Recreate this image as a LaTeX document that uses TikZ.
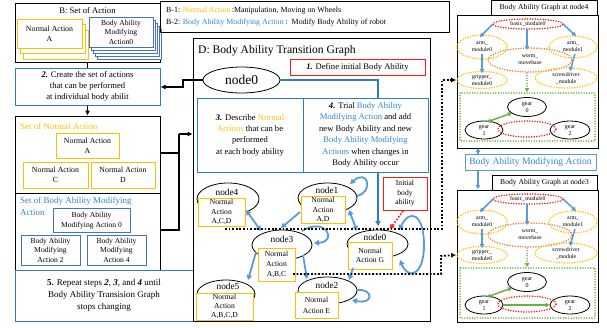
\documentclass[tikz,border=0pt]{standalone}
\usepackage{fontspec}
\setmainfont{Liberation Serif}
\usetikzlibrary{arrows.meta,shapes.geometric,calc}
\definecolor{yel}{HTML}{FFC000}
\definecolor{tblue}{HTML}{2E86D1}
\definecolor{bbox}{HTML}{2E7DC4}
\definecolor{dblue}{HTML}{4472C4}
\definecolor{lblue}{HTML}{5B9BD5}
\definecolor{rred}{HTML}{FF1A1A}
\definecolor{ggreen}{HTML}{70AD47}
\definecolor{oor}{HTML}{ED7D31}
\newcommand\fsz[2]{\fontsize{#1}{#2}\selectfont}
\tikzset{
  bx/.style={draw, line width=0.8pt, inner sep=0pt, align=center},
  nabox/.style={bx, draw=yel, fill=white, font=\fsz{7.8}{10}},
  bmbox/.style={bx, draw=dblue, fill=white, font=\fsz{7.6}{9.6}},
  bluebox/.style={bx, draw=bbox, line width=1pt},
  gnode/.style={ellipse, draw, line width=0.8pt, fill=white, inner sep=0pt},
  glabel/.style={inner sep=0pt, font=\fsz{9.3}{10}},
  gbox/.style={bx, draw=yel, line width=1pt, fill=white, font=\fsz{7.6}{9.2}},
  dotell/.style={ellipse, draw=#1, line width=1.7pt, dash pattern=on 0pt off 2.6pt, line cap=round, inner sep=0pt, align=center, font=\fsz{5.8}{6.8}},
  gearell/.style={ellipse, draw, line width=0.8pt, inner sep=0pt, align=center, font=\fsz{6}{7}},
  barr/.style={draw=lblue, line width=1.8pt, -{Triangle[length=5pt,width=5.5pt]}},
  barrb/.style={draw=lblue, line width=1.8pt, {Triangle[length=5pt,width=5.5pt]}-{Triangle[length=5pt,width=5.5pt]}},
  sarr/.style={draw=lblue, line width=1.5pt, -{Triangle[length=4pt,width=4.5pt]}},
  garr/.style={draw=ggreen, line width=1.5pt, -{Triangle[length=4pt,width=4.5pt]}},
  garrb/.style={draw=ggreen, line width=1.5pt, {Triangle[length=4pt,width=4.5pt]}-{Triangle[length=4pt,width=4.5pt]}},
  karr/.style={draw, line width=1.8pt, -{Latex[length=5pt,width=5pt]}},
  dotk/.style={draw, line width=1.8pt, dash pattern=on 1.8pt off 1.8pt},
  gdot/.style={draw=ggreen, line width=1.7pt, dash pattern=on 0pt off 2.6pt, line cap=round},
}
\begin{document}
\begin{tikzpicture}[x=1pt,y=-1pt]
\useasboundingbox (0,0) rectangle (607,327);
% ---------------- B box ----------------
\node[bx, minimum width=145pt, minimum height=59pt] (B) at (87.5,32.5) {};
\node[inner sep=0pt, font=\fsz{8.6}{10}] (Bt) at (87.5,11) {B: Set of Action};
\foreach \i in {2,1} {\draw[yel, fill=white, line width=0.8pt] ({17+3*\i},{19+5.5*\i}) rectangle ++(65,29);}
\node[nabox, minimum width=65pt, minimum height=29pt] (bna) at (49.5,33.5) {Normal Action\\A};
\foreach \i in {4,3,2,1} {\draw[dblue, fill=white, line width=0.8pt] ({89+2.2*\i},{17+3.2*\i}) rectangle ++(64,30);}
\node[bmbox, minimum width=64pt, minimum height=30pt] (bbm) at (121,32) {Body Ability\\Modifying\\Action0};
% ---------------- legend ----------------
\node[bx, minimum width=289pt, minimum height=31pt] (leg) at (304.5,16.5) {};
\node[inner sep=0pt, anchor=west, align=left, font=\fsz{7.9}{12}] (legt) at (166,17)
  {B-1: \textcolor{yel}{Normal Action}\,:Manipulation, Moving on Wheels\\
   B-2: \textcolor{tblue}{Body Ability Modifying Action} :\ \ Modify Body Ability of robot};
% ---------------- step 2 ----------------
\node[bluebox, minimum width=145pt, minimum height=37pt, font=\fsz{8.6}{11.2}] (s2) at (87.5,86.5)
  {\textbf{\textit{2.}} Create the set of actions\\that can be performed\\at individual body abilit};
\draw[line width=1.5pt] (B.south) -- (s2.north);
% ---------------- Set of normal action ----------------
\node[bx, minimum width=145pt, minimum height=77pt] (NA) at (87.5,154.5) {};
\node[inner sep=0pt, anchor=west, text=yel, font=\fsz{9}{11}] (NAt) at (20,126) {Set of Notmal Action};
\node[nabox, minimum width=63pt, minimum height=25pt] (naA) at (87.5,145.5) {Normal Action\\A};
\node[nabox, minimum width=65pt, minimum height=26pt] (naC) at (55.5,175) {Normal Action\\C};
\node[nabox, minimum width=64pt, minimum height=26pt] (naD) at (123,175) {Normal Action\\D};
\draw[karr] (s2.south) -- (NA.north);
% ---------------- Set of BAM action ----------------
\node[bx, minimum width=145pt, minimum height=77pt] (BM) at (87.5,231.5) {};
\node[inner sep=0pt, anchor=north west, align=left, text=tblue, font=\fsz{9}{12}] (BMt) at (20,197) {Set of Body Ability Modifying\\Action};
\node[bmbox, minimum width=77pt, minimum height=24pt] (bm0) at (91.5,220.5) {Body Ability\\Modifying Action 0};
\node[bmbox, minimum width=59pt, minimum height=30pt] (bm2) at (50.5,250) {Body Ability\\Modifying\\Action 2};
\node[bmbox, minimum width=59pt, minimum height=30pt] (bm4) at (116.5,250) {Body Ability\\Modifying\\Action 4};
% ---------------- step 5 ----------------
\node[bluebox, minimum width=178pt, minimum height=51pt, font=\fsz{9}{12}] (s5) at (104,295.5)
  {\textbf{5.} Repeat steps \textbf{\textit{2}}, \textbf{\textit{3}}, and \textbf{\textit{4}} until\\Body Ability Transision Graph\\stops changing};
% ---------------- D box ----------------
\node[bx, minimum width=237pt, minimum height=283pt] (D) at (311.5,179.5) {};
\node[inner sep=0pt, anchor=west, font=\fsz{11.6}{13}] (Dt) at (198,51) {D: Body Ability Transition Graph};
\node[bx, draw=rred, minimum width=135pt, minimum height=16pt, font=\fsz{8.6}{10}] (s1) at (357.5,67) {\textbf{\textit{1.}} Define initial Body Ability};
\node[ellipse, draw, line width=0.8pt, minimum width=77pt, minimum height=26pt, inner sep=0pt, font=\fsz{13.5}{14}] (n0big) at (241.5,80) {node0};
\node[bluebox, minimum width=106pt, minimum height=74pt, font=\fsz{8.6}{11.3}] (s3) at (250,135)
  {\textbf{\textit{3.}} Describe \textcolor{yel}{Normal}\\\textcolor{yel}{Actions} that can be\\performed\\at each body ability};
\node[bluebox, minimum width=125pt, minimum height=74pt, font=\fsz{8.6}{11.4}] (s4) at (365.5,135)
  {\textbf{\textit{4.}} Trial \textcolor{tblue}{Body Ability}\\\textcolor{tblue}{Modifying Action} and add\\new Body Ability and new\\\textcolor{tblue}{Body Ability Modifying}\\\textcolor{tblue}{Actions} when changes in\\Body Ability occur};
% black connectors
\coordinate (j1) at (183,80);
\draw[karr] (n0big.west) -- (j1) |- (s2.east |- 0,87);
\coordinate (j2) at (179,134);
\draw[line width=1.8pt] (NA.east |- 0,153) -- (179,153);
\draw[line width=1.8pt] (BM.east |- 0,230) -- (179,230) -- (j2);
\draw[karr] (j2) -- (D.west |- j2);
% blue connector node0 -> step4
\coordinate (b1) at (378,80);
\draw[draw=bbox, line width=1.5pt] (n0big.east) -- (b1) -- (b1 |- s4.north);
% ---------------- graph ----------------
\node[gnode, minimum width=62pt, minimum height=32pt] (n4) at (228,199) {};
\node[glabel] (n4l) at (227,192.5) {node4};
\node[gbox, minimum width=47pt, minimum height=28pt] (n4b) at (221.5,212) {Normal\\Action\\A,C,D};
\node[gnode, minimum width=59pt, minimum height=30pt] (n1) at (327.5,198) {};
\node[glabel] (n1l) at (327,190.5) {node1};
\node[gbox, minimum width=44pt, minimum height=27pt] (n1b) at (323,210) {Normal\\Action\\A,D};
\node[gnode, minimum width=60pt, minimum height=30pt] (n3) at (282,245) {};
\node[glabel] (n3l) at (282,239) {node3};
\node[gbox, minimum width=37pt, minimum height=33pt, font=\fsz{7.6}{10}] (n3b) at (276.5,264.5) {Normal\\Action\\A,B,C};
\node[gnode, minimum width=61pt, minimum height=28pt] (n0) at (377.5,244) {};
\node[glabel] (n0l) at (375,237.5) {node0};
\node[gbox, minimum width=44pt, minimum height=27pt, font=\fsz{7.6}{9.5}] (n0b) at (370,255.5) {Normal\\Action G};
\node[gnode, minimum width=58pt, minimum height=28pt] (n5) at (226,294) {};
\node[glabel] (n5l) at (228,286.5) {node5};
\node[gbox, minimum width=57pt, minimum height=27pt] (n5b) at (224.5,306.5) {Normal\\Action\\A,B,C,D};
\node[gnode, minimum width=59pt, minimum height=27pt] (n2) at (327.5,290.5) {};
\node[glabel] (n2l) at (327,285.5) {node2};
\node[gbox, minimum width=43pt, minimum height=26pt, font=\fsz{7.6}{11}] (n2b) at (316.5,305) {Normal\\Action E};
% blue graph arrows
\coordinate (a1) at (246,210); \coordinate (a2) at (261,231);
\draw[barrb] (a1) -- (a2);
\coordinate (a3) at (300,212); \coordinate (a4) at (281,228);
\draw[barr] (a3) -- (a4);
\coordinate (a5) at (349,210); \coordinate (a6) at (357,231);
\draw[barrb] (a5) -- (a6);
\coordinate (a7) at (357,196); \coordinate (a8) at (350,184);
\draw[barr] (a7) .. controls (374,192) and (368,168) .. (a8);
\coordinate (a9) at (302,231); \coordinate (a10) at (314,243);
\draw[barr] (a9) .. controls (326,216) and (338,242) .. (a10);
\coordinate (a11) at (256,252); \coordinate (a12) at (248,280);
\draw[barr] (a11) -- (a12);
\coordinate (a13) at (303,255); \coordinate (a14) at (307,279);
\draw[barr] (a13) -- (a14);
\coordinate (a15) at (353,268); \coordinate (a16) at (349,280);
\draw[barr] (a15) -- (a16);
\coordinate (a17) at (356,290); \coordinate (a18) at (352,300);
\draw[barr] (a17) .. controls (374,288) and (374,305) .. (a18);
\coordinate (a19) at (399,230); \coordinate (a20) at (424,245); \coordinate (a21) at (400,260);
\draw[barrb] (a19) .. controls (410,208) and (424,214) .. (a20) .. controls (424,276) and (408,280) .. (a21);
% initial body ability
\node[bx, draw=rred, minimum width=44pt, minimum height=33pt, font=\fsz{7.6}{9.5}] (init) at (405,193.5) {Initial\\body\\ability};
\coordinate (r1) at (390,229);
\draw[draw=rred, line width=1.6pt, dash pattern=on 1.6pt off 1.6pt, -{Triangle[length=4.5pt,width=5pt]}] (403,211) -- (r1);
% blue step4 -> node0
\coordinate (b2) at (378,226);
\draw[draw=bbox, line width=1.5pt, -{Triangle[length=5pt,width=5pt]}] (b1 |- s4.south) -- (b2);
% ---------------- right panels ----------------
\node[bx, minimum width=106pt, minimum height=15pt, font=\fsz{7.6}{9}] (g4t) at (544,7.5) {Body Ability Graph at node4};
\node[bx, minimum width=141pt, minimum height=133pt] (P4) at (527.5,81.5) {};
\node[bx, minimum width=105pt, minimum height=15pt, font=\fsz{7.6}{9}] (g3t) at (544.5,182.5) {Body Ability Graph at node3};
\node[bx, minimum width=141pt, minimum height=132pt] (P3) at (527.5,256) {};
\node[bx, draw=lblue, minimum width=131pt, minimum height=16pt, text=tblue, font=\fsz{9.6}{11}] (bama) at (530.5,162) {Body Ability Modifying Action};
\coordinate (u1) at (478,148); \coordinate (u2) at (478,189);
\draw[sarr] (bama.north -| u1) -- (u1);
\draw[sarr] (bama.south -| u2) -- (u2);
% panels
\foreach \dy/\p in {0/A,175/B} {
  \node[dotell=rred, minimum width=70pt, minimum height=10pt] (bas\p) at (528,{24+\dy}) {basic\_module0};
  \node[dotell=yel, minimum width=50pt, minimum height=24pt] (arm0\p) at (482,{47+\dy}) {arm\_\\module0};
  \node[dotell=yel, minimum width=48pt, minimum height=22pt] (arm1\p) at (573,{47+\dy}) {arm\_\\module1};
  \node[dotell=oor, minimum width=84pt, minimum height=24pt] (worm\p) at (530,{60+\dy}) {worm\_\\movebase};
  \node[dotell=yel, minimum width=50pt, minimum height=17pt] (grip\p) at (482,{80+\dy}) {gripper\_\\module0};
  \node[dotell=yel, minimum width=62pt, minimum height=20pt] (scr\p) at (566,{78+\dy}) {screwdriver\\\_module};
  \draw[sarr] (493,{24+\dy}) -- (480,{37+\dy});
  \draw[sarr] (527,{29+\dy}) -- (527,{50+\dy});
  \draw[sarr] (563,{24+\dy}) -- (576,{36+\dy});
  \draw[sarr] (482,{54+\dy}) -- (482,{73+\dy});
  \draw[sarr] (575,{54+\dy}) -- (570,{71+\dy});
  \draw[gdot, -{Triangle[length=4pt,width=4.5pt]}] (527,{73+\dy}) -- (527,{92+\dy});
  \node[gearell, minimum width=39pt, minimum height=19pt] (ge0\p) at (527,{107+\dy}) {gear\\0};
  \node[gearell, minimum width=38pt, minimum height=18pt] (ge1\p) at (484,{130+\dy}) {gear\\1};
  \node[gearell, minimum width=40pt, minimum height=18pt] (ge2\p) at (570,{130+\dy}) {gear\\2};
  \node[dotell=rred, minimum width=58pt, minimum height=16pt] (rr\p) at (527,{129+\dy}) {};
  \draw[garrb] (487,{122+\dy}) -- (512,{113+\dy});
}
\draw[gdot] (460,93) rectangle (595,141);
\draw[gdot] (460,268) rectangle (595,318);
\draw[garr] (ge1B.east) -- (ge2B.west);
% dotted black links
\coordinate (d1) at (225,229); \coordinate (d2) at (442,229); \coordinate (d3) at (442,80);
\draw[dotk, -{Latex[length=5pt,width=5pt]}] (d1) -- (d2) -- (d3) -- (gripA.west);
\coordinate (d4) at (293,274); \coordinate (d5) at (441,274); \coordinate (d6) at (441,256);
\draw[dotk, -{Latex[length=5pt,width=5pt]}] (d4) -- (d5) -- (d6) -- (gripB.west);
\end{tikzpicture}
\end{document}
